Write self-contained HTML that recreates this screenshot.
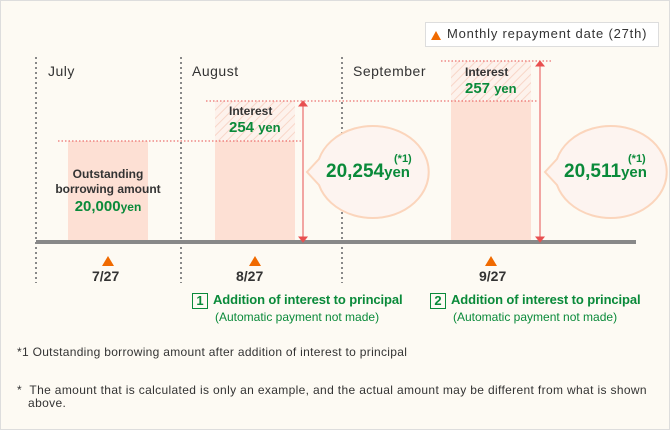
<!DOCTYPE html><html><head><style>
body{margin:0;}
.c{position:relative;width:668px;height:428px;background:#fdfaf3;border:1px solid #ddd;font-family:"Liberation Sans",sans-serif;overflow:hidden;color:#333}
.t{position:absolute;white-space:nowrap}
.g{color:#0a8a3a;font-weight:bold}
</style></head><body><div class="c">
<div class="t" style="left:424px;top:21px;width:232px;height:23px;background:#fff;border:1px solid #ddd"></div>
<svg width="670" height="430" style="position:absolute;left:0;top:0">
<defs><pattern id="h" width="6" height="6" patternUnits="userSpaceOnUse" patternTransform="rotate(45)"><rect width="6" height="6" fill="#fdf2ec"/><line x1="0" y1="0" x2="0" y2="6" stroke="#f8d6c8" stroke-width="2"/></pattern></defs>
<g stroke="#888" stroke-width="2" stroke-dasharray="2,3">
<line x1="35" y1="56" x2="35" y2="282"/><line x1="180" y1="56" x2="180" y2="282"/><line x1="341" y1="56" x2="341" y2="282"/></g>
<rect x="67" y="140" width="80" height="101" fill="#fde0d4"/>
<rect x="214" y="140" width="80" height="101" fill="#fde0d4"/>
<rect x="214" y="100" width="80" height="40" fill="url(#h)"/>
<rect x="450" y="100" width="80" height="141" fill="#fde0d4"/>
<rect x="450" y="60" width="80" height="40" fill="url(#h)"/>
<g stroke="#e85050" stroke-width="1" stroke-dasharray="1.5,2">
<line x1="57" y1="140" x2="300" y2="140"/><line x1="205" y1="100" x2="537" y2="100"/><line x1="440" y1="60" x2="550" y2="60"/></g>
<rect x="35" y="239" width="600" height="4" fill="#888"/>
<g stroke="#e85050" fill="#e85050"><line x1="302" y1="102" x2="302" y2="239"/><path d="M298,105 L302,100 L306,105Z M298,236 L302,241 L306,236Z"/>
<line x1="539" y1="62" x2="539" y2="239"/><path d="M535,65 L539,60 L543,65Z M535,236 L539,241 L543,236Z"/></g>
<g fill="#fdf4f0" stroke="#fbd5bc" stroke-width="2">
<path d="M318,158 A56,46 0 1 1 318,184 L306,171 Z"/>
<path d="M556,158 A56,46 0 1 1 556,184 L544,171 Z"/></g>
<g fill="#f06a00"><path d="M101,265 L107,255 L113,265Z"/><path d="M248,265 L254,255 L260,265Z"/><path d="M484,265 L490,255 L496,265Z"/><path d="M430,39 L435,30 L440,39Z"/></g>
</svg>
<div class="t" style="left:446px;top:25px;font-size:13px;letter-spacing:0.8px">Monthly repayment date (27th)</div>
<div class="t" style="left:47px;top:62px;font-size:14px;letter-spacing:0.5px">July</div>
<div class="t" style="left:191px;top:62px;font-size:14px;letter-spacing:0.5px">August</div>
<div class="t" style="left:352px;top:62px;font-size:14px;letter-spacing:0.5px">September</div>
<div class="t" style="left:52px;top:166px;width:110px;text-align:center;font-size:12px;font-weight:bold;line-height:15px">Outstanding<br>borrowing amount</div>
<div class="t g" style="left:52px;top:197px;width:110px;text-align:center;font-size:15px">20,000<span style="font-size:12px">yen</span></div>
<div class="t" style="left:228px;top:103px;font-size:12px;font-weight:bold">Interest</div>
<div class="t g" style="left:228px;top:118px;font-size:15px">254 <span style="font-size:13px">yen</span></div>
<div class="t" style="left:464px;top:64px;font-size:12px;font-weight:bold">Interest</div>
<div class="t g" style="left:464px;top:79px;font-size:15px">257 <span style="font-size:13px">yen</span></div>
<div class="t g" style="left:325px;top:160px;font-size:19px">20,254<span style="font-size:15px">yen</span></div>
<div class="t g" style="left:393px;top:152px;font-size:11px">(*1)</div>
<div class="t g" style="left:563px;top:160px;font-size:19px">20,511<span style="font-size:15px">yen</span></div>
<div class="t g" style="left:627px;top:152px;font-size:11px">(*1)</div>
<div class="t" style="left:91px;top:267px;font-size:14px;font-weight:bold">7/27</div>
<div class="t" style="left:235px;top:267px;font-size:14px;font-weight:bold">8/27</div>
<div class="t" style="left:478px;top:267px;font-size:14px;font-weight:bold">9/27</div>
<div class="t" style="left:191px;top:292px;width:14px;height:14px;border:1.5px solid #0a8a3a;color:#0a8a3a;font-weight:bold;font-size:13px;text-align:center;line-height:14px">1</div>
<div class="t" style="left:212px;top:291px;font-size:13px;color:#0a8a3a;font-weight:bold;letter-spacing:-0.1px">Addition of interest to principal</div>
<div class="t" style="left:214px;top:309px;font-size:12px;color:#0a8a3a">(Automatic payment not made)</div>
<div class="t" style="left:429px;top:292px;width:14px;height:14px;border:1.5px solid #0a8a3a;color:#0a8a3a;font-weight:bold;font-size:13px;text-align:center;line-height:14px">2</div>
<div class="t" style="left:450px;top:291px;font-size:13px;color:#0a8a3a;font-weight:bold;letter-spacing:-0.1px">Addition of interest to principal</div>
<div class="t" style="left:452px;top:309px;font-size:12px;color:#0a8a3a">(Automatic payment not made)</div>
<div class="t" style="left:16px;top:344px;font-size:12px;letter-spacing:0.3px">*1 Outstanding borrowing amount after addition of interest to principal</div>
<div class="t" style="left:16px;top:383px;font-size:12px;letter-spacing:0.35px;white-space:normal;width:645px;line-height:13px">* &nbsp;The amount that is calculated is only an example, and the actual amount may be different from what is shown<br>&nbsp;&nbsp;&nbsp;above.</div>
</div></body></html>
